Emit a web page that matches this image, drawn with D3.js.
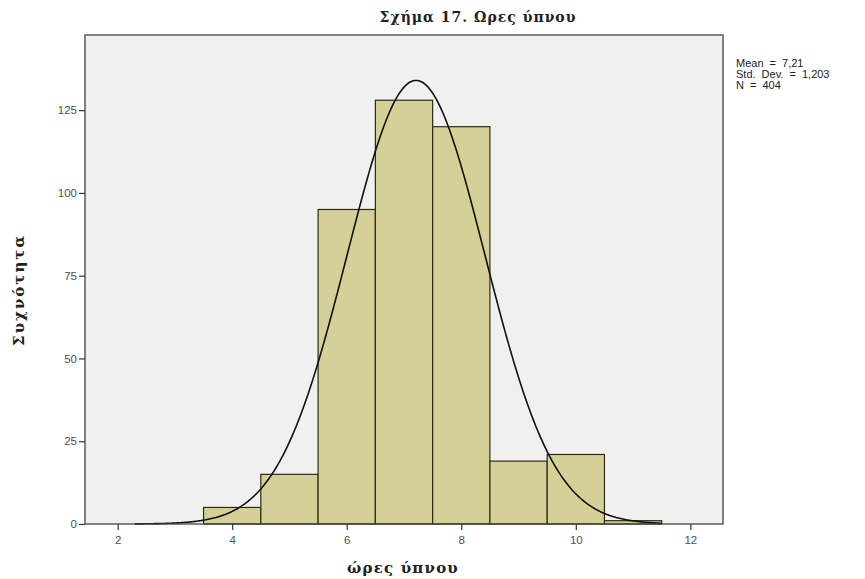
<!DOCTYPE html>
<html><head><meta charset="utf-8">
<script src="https://cdn.jsdelivr.net/npm/d3@7/dist/d3.min.js"></script>
<style>body{margin:0;background:#fff;}svg{display:block;}</style>
</head><body>
<script>
// Data
const binStarts = [3.5, 4.5, 5.5, 6.5, 7.5, 8.5, 9.5, 10.5];
const binWidth = 1;
const counts = [5, 15, 95, 128, 120, 19, 21, 1];
const xTicks = [2, 4, 6, 8, 10, 12];
const yTicks = [0, 25, 50, 75, 100, 125];
const statsLines = ["Mean = 7,21", "Std. Dev. = 1,203", "N = 404"];
const mean = 7.21, sd = 1.203, N = 404;
const titleText = "Σχήμα  17. Ωρες ύπνου";
const xTitle = "ώρες ύπνου";
const yTitle = "Συχνότητα";

const W = 865, H = 579;
const m = {left: 85, right: 723, top: 35, bottom: 524};
const svg = d3.select("body").append("svg").attr("width", W).attr("height", H);

const x = d3.scaleLinear().domain([1.43, 12.57]).range([m.left, m.right]);
const y = d3.scaleLinear().domain([0, 147.7]).range([m.bottom, m.top]);

svg.append("rect").attr("x", m.left).attr("y", m.top)
  .attr("width", m.right - m.left).attr("height", m.bottom - m.top)
  .attr("fill", "#f0f0f0");

// Bars
svg.append("g").selectAll("rect").data(counts).join("rect")
  .attr("x", (d, i) => x(binStarts[i]))
  .attr("y", d => y(d))
  .attr("width", (d, i) => x(binStarts[i] + binWidth) - x(binStarts[i]))
  .attr("height", d => y(0) - y(d))
  .attr("fill", "#d5d098")
  .attr("stroke", "#2e2a14").attr("stroke-width", 1.2);

// Normal curve
const xs = d3.range(2.3, 11.5001, 0.02);
const pdf = v => N * binWidth / (sd * Math.sqrt(2 * Math.PI)) * Math.exp(-0.5 * ((v - mean) / sd) ** 2);
svg.append("path").datum(xs)
  .attr("d", d3.line().x(v => x(v)).y(v => y(pdf(v))))
  .attr("fill", "none").attr("stroke", "#111").attr("stroke-width", 1.6);

// Frame
svg.append("rect").attr("x", m.left).attr("y", m.top)
  .attr("width", m.right - m.left).attr("height", m.bottom - m.top)
  .attr("fill", "none").attr("stroke", "#444").attr("stroke-width", 1.3);

// Axes
const xAxis = svg.append("g").attr("transform", `translate(0,${m.bottom})`)
  .call(d3.axisBottom(x).tickValues(xTicks).tickSize(6).tickPadding(6).tickFormat(d3.format("d")));
const yAxis = svg.append("g").attr("transform", `translate(${m.left},0)`)
  .call(d3.axisLeft(y).tickValues(yTicks).tickSize(6).tickPadding(2).tickFormat(d3.format("d")));
[xAxis, yAxis].forEach(g => {
  g.select(".domain").remove();
  g.selectAll("line").attr("stroke", "#333").attr("stroke-width", 1.2);
  g.selectAll("text").attr("fill", "#505050").style("font-family", "Liberation Sans, Arial, sans-serif").style("font-size", "11.5px");
});

// Titles
const serif = "DejaVu Serif, Liberation Serif, serif";
svg.append("text").attr("x", 478).attr("y", 22).attr("text-anchor", "middle")
  .style("font-family", serif).style("font-weight", "bold").style("font-size", "14px").style("letter-spacing", "1px")
  .attr("fill", "#222").text(titleText);
svg.append("text").attr("x", 403).attr("y", 573).attr("text-anchor", "middle")
  .style("font-family", serif).style("font-weight", "bold").style("font-size", "15px").style("letter-spacing", "1.2px")
  .attr("fill", "#222").text(xTitle);
svg.append("text").attr("transform", "translate(24,290) rotate(-90)").attr("text-anchor", "middle")
  .style("font-family", serif).style("font-weight", "bold").style("font-size", "15px").style("letter-spacing", "2px")
  .attr("fill", "#222").text(yTitle);

// Stats legend
svg.append("g").selectAll("text").data(statsLines).join("text")
  .attr("x", 736).attr("y", (d, i) => 67 + i * 11)
  .style("font-family", "Liberation Sans, Arial, sans-serif").style("font-size", "11px").style("word-spacing", "3px")
  .attr("fill", "#222").text(d => d);
</script>
</body></html>
